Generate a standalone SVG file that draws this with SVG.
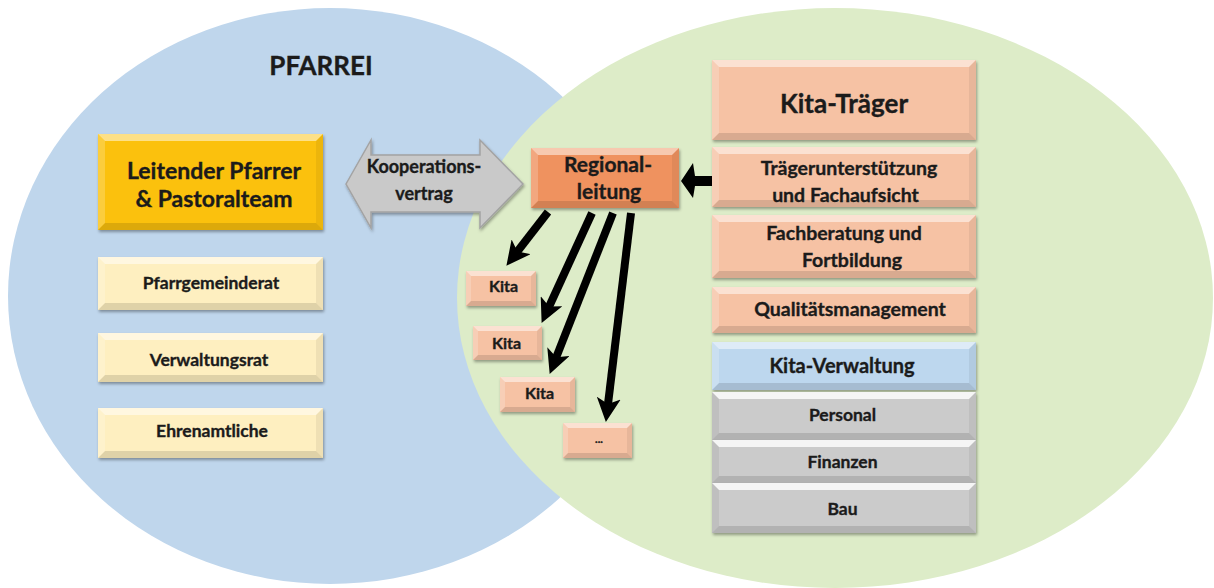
<svg xmlns="http://www.w3.org/2000/svg" width="1214" height="588" viewBox="0 0 1214 588">
  <defs>
    <style>
      .t { font-family: Lato, "Liberation Sans", sans-serif; font-weight: 700; fill: #1b1b1b; stroke: #1b1b1b; stroke-width: 0.35; text-anchor: middle; }
      .hl { fill: #ffffff; opacity: 0.5; }
      .sd { fill: #000000; opacity: 0.12; }
      .hs { fill: #ffffff; opacity: 0.2; }
      .ds { fill: #000000; opacity: 0.06; }
      .gold { fill: #FBC10E; }
      .pale { fill: #FEEFC0; }
      .orange { fill: #EF925F; }
      .salmon { fill: #F6C2A4; }
      .blue { fill: #BDD7EE; }
      .gray { fill: #CBCBCB; }
      .gray-hl { fill: #ffffff; opacity: 0.8; }
      .box { filter: url(#shadow); }
      .link { stroke: #000; stroke-width: 8; fill: none; marker-end: url(#head); }
    </style>
    <filter id="shadow" x="-10%" y="-10%" width="120%" height="130%">
      <feDropShadow dx="1" dy="2" stdDeviation="1.5" flood-color="#000" flood-opacity="0.35"/>
    </filter>
    <marker id="head" markerUnits="userSpaceOnUse" markerWidth="24" markerHeight="24" viewBox="0 0 24 24" refX="7" refY="12" orient="auto">
      <path d="M0,0 L24,12 L0,24 L6,12 Z" fill="#000"/>
    </marker>
  </defs>

  <rect width="1214" height="588" fill="#ffffff"/>

  <!-- the two overlapping areas -->
  <g id="areas">
    <ellipse cx="330" cy="296" rx="322" ry="288" fill="#BFD6EC"/>
    <ellipse cx="835" cy="298" rx="378" ry="290" fill="#DDECC8"/>
    <text class="t" x="321" y="75" font-size="26">PFARREI</text>
  </g>

  <!-- parish side -->
  <g id="leitender-pfarrer">
    <rect class="box gold" x="98" y="134" width="225" height="96"/>
    <path class="hl" d="M98,134H323L316,141H105Z"/>
    <path class="sd" d="M98,230H323L316,223H105Z"/>
    <path class="hs" d="M98,134L105,141V223L98,230Z"/>
    <path class="ds" d="M323,134L316,141V223L323,230Z"/>
    <text class="t" x="214" y="179" font-size="23">Leitender Pfarrer</text>
    <text class="t" x="214" y="207" font-size="23">&amp; Pastoralteam</text>
  </g>

  <g id="pfarrgemeinderat">
    <rect class="box pale" x="98" y="257" width="225" height="53"/>
    <path class="hl" d="M98,257H323L316,264H105Z"/>
    <path class="sd" d="M98,310H323L316,303H105Z"/>
    <path class="hs" d="M98,257L105,264V303L98,310Z"/>
    <path class="ds" d="M323,257L316,264V303L323,310Z"/>
    <text class="t" x="211" y="289" font-size="17.5">Pfarrgemeinderat</text>
  </g>

  <g id="verwaltungsrat">
    <rect class="box pale" x="98" y="333" width="225" height="49"/>
    <path class="hl" d="M98,333H323L316,340H105Z"/>
    <path class="sd" d="M98,382H323L316,375H105Z"/>
    <path class="hs" d="M98,333L105,340V375L98,382Z"/>
    <path class="ds" d="M323,333L316,340V375L323,382Z"/>
    <text class="t" x="209" y="366" font-size="17.5">Verwaltungsrat</text>
  </g>

  <g id="ehrenamtliche">
    <rect class="box pale" x="98" y="408" width="225" height="50"/>
    <path class="hl" d="M98,408H323L316,415H105Z"/>
    <path class="sd" d="M98,458H323L316,451H105Z"/>
    <path class="hs" d="M98,408L105,415V451L98,458Z"/>
    <path class="ds" d="M323,408L316,415V451L323,458Z"/>
    <text class="t" x="212" y="437" font-size="17.5">Ehrenamtliche</text>
  </g>

  <!-- cooperation agreement -->
  <g id="kooperationsvertrag">
    <polygon class="box" points="346,184 371,140 371,155 480,155 480,140 523,184 480,228 480,212 371,212 371,228" fill="#C9C9C9" stroke="#A3A3A3" stroke-width="1.5"/>
    <text class="t" x="424" y="173" font-size="18">Kooperations-</text>
    <text class="t" x="424" y="200" font-size="18">vertrag</text>
  </g>

  <g id="regionalleitung">
    <rect class="box orange" x="531" y="148" width="148" height="60"/>
    <path class="hl" d="M531,148H679L672,155H538Z"/>
    <path class="sd" d="M531,208H679L672,201H538Z"/>
    <path class="hs" d="M531,148L538,155V201L531,208Z"/>
    <path class="ds" d="M679,148L672,155V201L679,208Z"/>
    <text class="t" x="608" y="172" font-size="21">Regional-</text>
    <text class="t" x="609" y="199" font-size="21">leitung</text>
  </g>

  <g id="kita-1">
    <rect class="box salmon" x="466" y="271" width="70" height="35"/>
    <path class="hl" d="M466,271H536L531,276H471Z"/>
    <path class="sd" d="M466,306H536L531,301H471Z"/>
    <path class="hs" d="M466,271L471,276V301L466,306Z"/>
    <path class="ds" d="M536,271L531,276V301L536,306Z"/>
    <text class="t" x="503.5" y="292" font-size="16">Kita</text>
  </g>

  <g id="kita-2">
    <rect class="box salmon" x="473" y="326" width="69" height="34"/>
    <path class="hl" d="M473,326H542L537,331H478Z"/>
    <path class="sd" d="M473,360H542L537,355H478Z"/>
    <path class="hs" d="M473,326L478,331V355L473,360Z"/>
    <path class="ds" d="M542,326L537,331V355L542,360Z"/>
    <text class="t" x="506.5" y="349" font-size="16">Kita</text>
  </g>

  <g id="kita-3">
    <rect class="box salmon" x="500" y="377" width="75" height="35"/>
    <path class="hl" d="M500,377H575L570,382H505Z"/>
    <path class="sd" d="M500,412H575L570,407H505Z"/>
    <path class="hs" d="M500,377L505,382V407L500,412Z"/>
    <path class="ds" d="M575,377L570,382V407L575,412Z"/>
    <text class="t" x="539.5" y="399" font-size="16">Kita</text>
  </g>

  <g id="kita-more">
    <rect class="box salmon" x="563" y="423" width="69" height="35"/>
    <path class="hl" d="M563,423H632L627,428H568Z"/>
    <path class="sd" d="M563,458H632L627,453H568Z"/>
    <path class="hs" d="M563,423L568,428V453L563,458Z"/>
    <path class="ds" d="M632,423L627,428V453L632,458Z"/>
    <text class="t" x="599" y="443" font-size="11">...</text>
  </g>

  <!-- carrier stack -->
  <g id="kita-traeger">
    <rect class="box salmon" x="712" y="60" width="264" height="80"/>
    <path class="hl" d="M712,60H976L969,67H719Z"/>
    <path class="sd" d="M712,140H976L969,133H719Z"/>
    <path class="hs" d="M712,60L719,67V133L712,140Z"/>
    <path class="ds" d="M976,60L969,67V133L976,140Z"/>
    <text class="t" x="844" y="113" font-size="26">Kita-Träger</text>
  </g>

  <g id="traegerunterstuetzung">
    <rect class="box salmon" x="712" y="147" width="264" height="60"/>
    <path class="hl" d="M712,147H976L969,154H719Z"/>
    <path class="sd" d="M712,207H976L969,200H719Z"/>
    <path class="hs" d="M712,147L719,154V200L712,207Z"/>
    <path class="ds" d="M976,147L969,154V200L976,207Z"/>
    <text class="t" x="849" y="175" font-size="19.5">Trägerunterstützung</text>
    <text class="t" x="845.5" y="202" font-size="19.5">und Fachaufsicht</text>
  </g>

  <g id="fachberatung">
    <rect class="box salmon" x="712" y="215" width="264" height="63"/>
    <path class="hl" d="M712,215H976L969,222H719Z"/>
    <path class="sd" d="M712,278H976L969,271H719Z"/>
    <path class="hs" d="M712,215L719,222V271L712,278Z"/>
    <path class="ds" d="M976,215L969,222V271L976,278Z"/>
    <text class="t" x="844" y="240" font-size="19.5">Fachberatung und</text>
    <text class="t" x="852" y="267" font-size="19.5">Fortbildung</text>
  </g>

  <g id="qualitaetsmanagement">
    <rect class="box salmon" x="712" y="287" width="264" height="46"/>
    <path class="hl" d="M712,287H976L969,294H719Z"/>
    <path class="sd" d="M712,333H976L969,326H719Z"/>
    <path class="hs" d="M712,287L719,294V326L712,333Z"/>
    <path class="ds" d="M976,287L969,294V326L976,333Z"/>
    <text class="t" x="850" y="316" font-size="19.5">Qualitätsmanagement</text>
  </g>

  <g id="kita-verwaltung">
    <rect class="box blue" x="712" y="342" width="264" height="48"/>
    <path class="hl" d="M712,342H976L969,349H719Z"/>
    <path class="sd" d="M712,390H976L969,383H719Z"/>
    <path class="hs" d="M712,342L719,349V383L712,390Z"/>
    <path class="ds" d="M976,342L969,349V383L976,390Z"/>
    <text class="t" x="842" y="373" font-size="20">Kita-Verwaltung</text>
  </g>

  <g id="personal">
    <rect class="box gray" x="712" y="392" width="264" height="48"/>
    <path class="gray-hl" d="M712,392H976L969,399H719Z"/>
    <path class="sd" d="M712,440H976L969,433H719Z"/>
    <path class="ds" d="M712,392L719,399V433L712,440Z"/>
    <path class="ds" d="M976,392L969,399V433L976,440Z"/>
    <text class="t" x="842.5" y="421" font-size="17.5">Personal</text>
  </g>

  <g id="finanzen">
    <rect class="box gray" x="712" y="440" width="264" height="43"/>
    <path class="gray-hl" d="M712,440H976L969,447H719Z"/>
    <path class="sd" d="M712,483H976L969,476H719Z"/>
    <path class="ds" d="M712,440L719,447V476L712,483Z"/>
    <path class="ds" d="M976,440L969,447V476L976,483Z"/>
    <text class="t" x="842.5" y="468" font-size="17.5">Finanzen</text>
  </g>

  <g id="bau">
    <rect class="box gray" x="712" y="483" width="264" height="50"/>
    <path class="gray-hl" d="M712,483H976L969,490H719Z"/>
    <path class="sd" d="M712,533H976L969,526H719Z"/>
    <path class="ds" d="M712,483L719,490V526L712,533Z"/>
    <path class="ds" d="M976,483L969,490V526L976,533Z"/>
    <text class="t" x="842.5" y="515" font-size="17.5">Bau</text>
  </g>

  <!-- connectors -->
  <g id="connectors">
    <path d="M712,176H695L693,163L681,181L693,198L695,186H712Z" fill="#000"/>
    <path class="link" d="M548,212L516.8,252.3"/>
    <path class="link" d="M592,213L548.7,307.5"/>
    <path class="link" d="M613,213L555.9,358.1"/>
    <path class="link" d="M631,213L607.9,405.1"/>
  </g>
</svg>
